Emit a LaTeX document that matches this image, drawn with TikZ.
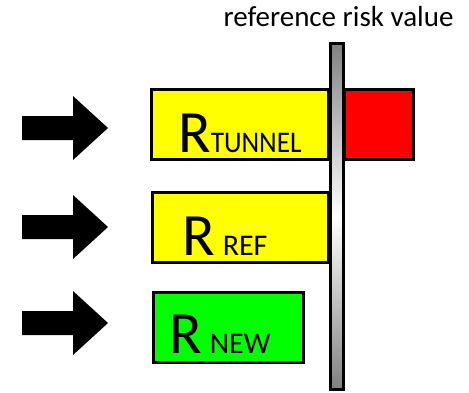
\documentclass[tikz,border=0pt]{standalone}
\usepackage{fontspec}
\setmainfont{Carlito}
\usepackage{graphicx}
\usepackage{xcolor}
\definecolor{FillYellow}{RGB}{255,255,0}
\definecolor{FillRed}{RGB}{255,0,0}
\definecolor{FillGreen}{RGB}{0,255,0}
\definecolor{PoleGray}{RGB}{128,128,128}
\usepackage{tikz}
\usetikzlibrary{positioning, calc}
\tikzset{
  % Risk box
  riskbox/.style={
    rectangle, draw=black, line width=3pt,
    fill=FillYellow, inner sep=0pt,
    minimum height=70pt
  },
  riskbox red/.style={riskbox, fill=FillRed},
  riskbox green/.style={riskbox, fill=FillGreen},
  % Box label (large R with small index)
  risklabel/.style={anchor=base west, inner sep=0pt, font=\fontsize{60}{60}\selectfont},
  % Block arrow
  blockarr/.style={fill=black},
}
\newcommand{\riskidx}[1]{{\fontsize{30}{30}\selectfont #1}}

\begin{document}
\begin{tikzpicture}[x=1pt, y=-1pt]
  \useasboundingbox (0,0) rectangle (469,392);

  % Boxes
  \node[riskbox, minimum width=177pt] (tunnel) at (240,124.5) {};
  \node[riskbox red, minimum width=69pt] (excess) at (379,124.5) {};
  \node[riskbox, minimum width=176pt] (ref) at (240.5,227.5) {};
  \node[riskbox green, minimum width=150pt] (new) at (228.5,327.5) {};

  % Labels
  \node[risklabel] (ltunnel) at (178,152) {R\scalebox{0.91}[1]{\riskidx{TUNNEL}}};
  \node[risklabel] (lref) at (182,255) {R\hspace{8pt}\riskidx{REF}};
  \node[risklabel] (lnew) at (169,353) {R\hspace{8pt}\riskidx{NEW}};

  % Reference pole
  \shade[top color=PoleGray, bottom color=PoleGray, middle color=white]
    (330.5,43.5) rectangle (343.5,389.5);
  \draw[line width=3pt] (330.5,43.5) rectangle (343.5,389.5);
  \node[anchor=base, inner sep=0pt, font=\fontsize{29}{29}\selectfont] (title) at (338.5,26) {reference risk value};

  % Arrows
  \foreach \y in {128,227,323} {
    \fill[blockarr] (22,\y-12) -- (73,\y-12) -- (73,\y-32) -- (108,\y)
      -- (73,\y+32) -- (73,\y+12) -- (22,\y+12) -- cycle;
  }
\end{tikzpicture}
\end{document}
